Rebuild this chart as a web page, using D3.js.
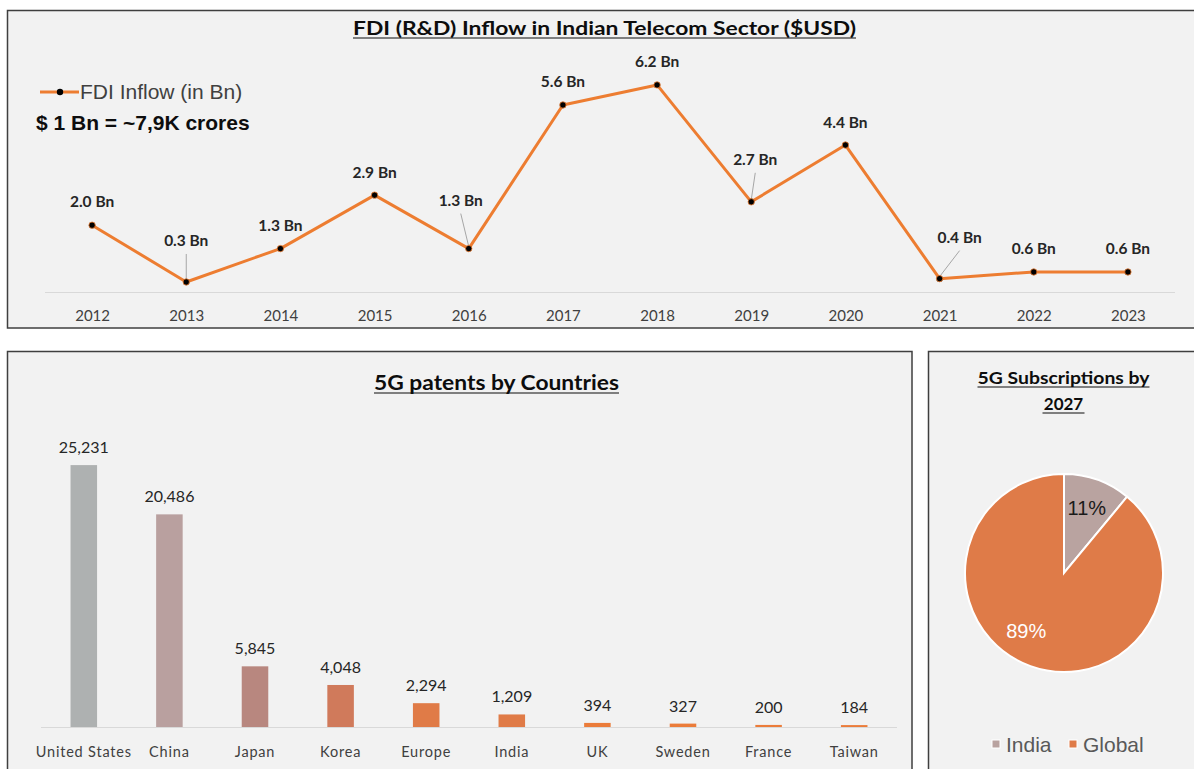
<!DOCTYPE html>
<html>
<head>
<meta charset="utf-8">
<script src="https://cdn.jsdelivr.net/npm/d3@7"></script>
<style>
  html, body { margin: 0; padding: 0; background: #ffffff; }
  svg { display: block; }
</style>
</head>
<body>
<script>
// ---------- DATA ----------
const years = ["2012","2013","2014","2015","2016","2017","2018","2019","2020","2021","2022","2023"];
const fdiInflow = [2.0, 0.3, 1.3, 2.9, 1.3, 5.6, 6.2, 2.7, 4.4, 0.4, 0.6, 0.6];
const fdiLabels = ["2.0 Bn","0.3 Bn","1.3 Bn","2.9 Bn","1.3 Bn","5.6 Bn","6.2 Bn","2.7 Bn","4.4 Bn","0.4 Bn","0.6 Bn","0.6 Bn"];

const countries = ["United States","China","Japan","Korea","Europe","India","UK","Sweden","France","Taiwan"];
const patents = [25231, 20486, 5845, 4048, 2294, 1209, 394, 327, 200, 184];

const pieCategories = ["India","Global"];
const pieShares = [11, 89];

// ---------- STYLE / LAYOUT ----------
const W = 1194, H = 769;
const LATO = "Lato, 'Open Sans', sans-serif";
const ARIAL = "'Liberation Sans', Arial, sans-serif";
const barColors = ["#AEB1B1","#B9A09F","#B8877F","#D07A5B","#E07B47","#E07B47","#EB7C3A","#EB7C3A","#EB7C3A","#EB7C3A"];
const pieColors = ["#B9A3A0","#DF7B48"];
// label offsets (dx, dy) relative to each point, for line data labels
const labelShift = [[0,-18],[0,-36],[0,-18],[0,-17],[-8,-43],[0,-18],[0,-18],[4,-37],[0,-17],[20,-36],[0,-18],[0,-18]];
const leaderIdx = [1,4,7,9];

const svg = d3.select("body").append("svg").attr("width", W).attr("height", H);

// panels
const panels = [
  {x: 7.5, y: 10.5, w: 1200, h: 317.5},
  {x: 7.5, y: 351.5, w: 904.5, h: 430},
  {x: 928.5, y: 351.5, w: 300, h: 430}
];
svg.selectAll("rect.panel").data(panels).join("rect")
  .attr("class","panel")
  .attr("x", d=>d.x).attr("y", d=>d.y).attr("width", d=>d.w).attr("height", d=>d.h)
  .attr("fill","#F2F2F2").attr("stroke","#3F3F3F").attr("stroke-width",1.5);

function title(text, cx, baseline, size, width) {
  const t = svg.append("text").attr("x", cx).attr("y", baseline)
    .attr("text-anchor","middle").attr("font-family", LATO).attr("font-weight","bold")
    .attr("font-size", size).attr("fill","#0D0D0D").text(text);
  if (width) t.attr("textLength", width).attr("lengthAdjust","spacingAndGlyphs");
  const w = width || t.node().getComputedTextLength();
  svg.append("line").attr("x1", cx - w/2).attr("x2", cx + w/2)
    .attr("y1", baseline + 3).attr("y2", baseline + 3)
    .attr("stroke","#0D0D0D").attr("stroke-width",1.2);
}

// ---------- LINE CHART ----------
const x1 = d3.scalePoint().domain(years).range([45, 1175]).padding(0.5);
const y1 = d3.scaleLinear().domain([0, 7]).range([292, 292 - 7*33.4]);

title("FDI (R&D) Inflow in Indian Telecom Sector ($USD)", 604.5, 35, 19, 503);

// baseline axis
svg.append("line").attr("x1",45).attr("x2",1175).attr("y1",292.5).attr("y2",292.5)
  .attr("stroke","#D9D9D9").attr("stroke-width",1);

const xAxis1 = svg.append("g").attr("transform","translate(0,292)")
  .call(d3.axisBottom(x1).tickSize(0).tickPadding(18.5));
xAxis1.select(".domain").remove();
xAxis1.selectAll("text").attr("font-family", LATO).attr("font-size", 15).attr("fill","#404040");

const lineGen = d3.line().x((d,i)=>x1(years[i])).y(d=>y1(d));
svg.append("path").datum(fdiInflow).attr("d", lineGen)
  .attr("fill","none").attr("stroke","#ED7D31").attr("stroke-width",3).attr("stroke-linejoin","round");

// leader lines
svg.selectAll("line.leader").data(leaderIdx).join("line").attr("class","leader")
  .attr("x1", i => x1(years[i]) + labelShift[i][0])
  .attr("y1", i => y1(fdiInflow[i]) + labelShift[i][1] + 8)
  .attr("x2", i => x1(years[i]))
  .attr("y2", i => y1(fdiInflow[i]) - 2)
  .attr("stroke","#A6A6A6").attr("stroke-width",1);

svg.selectAll("circle.pt").data(fdiInflow).join("circle").attr("class","pt")
  .attr("cx",(d,i)=>x1(years[i])).attr("cy",d=>y1(d)).attr("r",3.2)
  .attr("fill","#000").attr("stroke","#ED7D31").attr("stroke-width",0.8);

svg.selectAll("text.fdilab").data(fdiInflow).join("text").attr("class","fdilab")
  .attr("x",(d,i)=>x1(years[i]) + labelShift[i][0])
  .attr("y",(d,i)=>y1(d) + labelShift[i][1])
  .attr("text-anchor","middle").attr("font-family", LATO).attr("font-weight","bold")
  .attr("font-size",15.5).attr("fill","#262626")
  .text((d,i)=>fdiLabels[i]);

// legend
svg.append("line").attr("x1",40).attr("x2",79).attr("y1",92).attr("y2",92)
  .attr("stroke","#ED7D31").attr("stroke-width",3);
svg.append("circle").attr("cx",60).attr("cy",92).attr("r",3.2).attr("fill","#000");
svg.append("text").attr("x",80).attr("y",99).attr("font-family",ARIAL).attr("font-size",21)
  .attr("fill","#404040").text("FDI Inflow (in Bn)");
svg.append("text").attr("x",36).attr("y",130).attr("font-family",ARIAL).attr("font-weight","bold")
  .attr("font-size",21).attr("fill","#0D0D0D").text("$ 1 Bn = ~7,9K crores");

// ---------- BAR CHART ----------
const x2 = d3.scaleBand().domain(countries).range([41, 897]).paddingInner(0.69).paddingOuter(0.345);
const y2 = d3.scaleLinear().domain([0, 30000]).range([727, 727 - 30000*0.01038]);

title("5G patents by Countries", 496.5, 390, 20, 245);

svg.append("line").attr("x1",41).attr("x2",897).attr("y1",727.5).attr("y2",727.5)
  .attr("stroke","#D9D9D9").attr("stroke-width",1);

svg.selectAll("rect.bar").data(patents).join("rect").attr("class","bar")
  .attr("x",(d,i)=>x2(countries[i])).attr("width", x2.bandwidth())
  .attr("y", d=>y2(d)).attr("height", d=>y2(0)-y2(d))
  .attr("fill",(d,i)=>barColors[i]);

svg.selectAll("text.barlab").data(patents).join("text").attr("class","barlab")
  .attr("x",(d,i)=>x2(countries[i]) + x2.bandwidth()/2)
  .attr("y", d=>y2(d) - 12)
  .attr("text-anchor","middle").attr("font-family",LATO).attr("font-size",16)
  .attr("fill","#262626").text(d=>d3.format(",")(d));

const xAxis2 = svg.append("g").attr("transform","translate(0,727)")
  .call(d3.axisBottom(x2).tickSize(0).tickPadding(19.5));
xAxis2.select(".domain").remove();
xAxis2.selectAll("text").attr("font-family",LATO).attr("font-size",14.5)
  .attr("letter-spacing","0.8px").attr("fill","#404040");

// ---------- PIE ----------
const cx = 1064, cy = 573, R = 99;
svg.append("text").attr("x",1063.5).attr("y",384).attr("text-anchor","middle")
  .attr("font-family",LATO).attr("font-weight","bold").attr("font-size",17)
  .attr("fill","#0D0D0D").text("5G Subscriptions by")
  .attr("textLength",172).attr("lengthAdjust","spacingAndGlyphs");
svg.append("line").attr("x1",1063.5-86).attr("x2",1063.5+86).attr("y1",387).attr("y2",387)
  .attr("stroke","#0D0D0D").attr("stroke-width",1.2);
svg.append("text").attr("x",1063.5).attr("y",410).attr("text-anchor","middle")
  .attr("font-family",LATO).attr("font-weight","bold").attr("font-size",17)
  .attr("fill","#0D0D0D").text("2027");
svg.append("line").attr("x1",1063.5-21).attr("x2",1063.5+21).attr("y1",413).attr("y2",413)
  .attr("stroke","#0D0D0D").attr("stroke-width",1.2);

const pie = d3.pie().sort(null).value(d=>d)(pieShares);
const arc = d3.arc().innerRadius(0).outerRadius(R);
const labelArc = d3.arc().innerRadius(R*0.68).outerRadius(R*0.68);
const gp = svg.append("g").attr("transform",`translate(${cx},${cy})`);
gp.selectAll("path").data(pie).join("path").attr("d",arc)
  .attr("fill",(d,i)=>pieColors[i]).attr("stroke","#FFFFFF").attr("stroke-width",2);
gp.selectAll("text").data(pie).join("text")
  .attr("transform",(d,i)=>{ const c = labelArc.centroid(d); return i===1 ? `translate(${c[0]-15},${c[1]-5})` : `translate(${c[0]},${c[1]-2})`; })
  .attr("text-anchor","middle").attr("dy","0.35em")
  .attr("font-family",ARIAL).attr("font-size",20)
  .attr("fill",(d,i)=> i===0 ? "#1A1A1A" : "#FFFFFF")
  .text((d,i)=>pieShares[i] + "%");

// pie legend
const legX = [992, 1069];
const lg = svg.selectAll("g.plg").data(pieCategories).join("g").attr("class","plg")
  .attr("transform",(d,i)=>`translate(${legX[i]},740)`);
lg.append("rect").attr("width",8).attr("height",8).attr("fill",(d,i)=>pieColors[i])
  .attr("stroke","#FFFFFF").attr("stroke-width",1);
lg.append("text").attr("x",14).attr("y",12).attr("font-family",ARIAL).attr("font-size",21)
  .attr("fill","#595959").text(d=>d);
</script>
</body>
</html>
